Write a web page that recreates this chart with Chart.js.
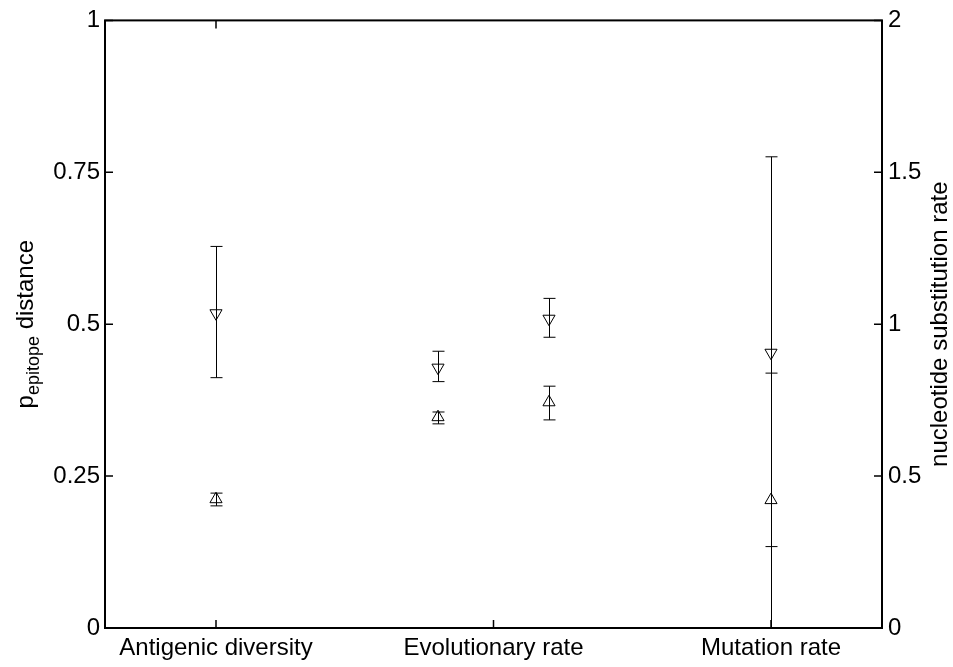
<!DOCTYPE html>
<html>
<head>
<meta charset="utf-8">
<script src="https://cdn.jsdelivr.net/npm/chart.js@4.4.1/dist/chart.umd.min.js"></script>
<style>
  html, body { margin: 0; padding: 0; background: #fff; }
  #myChart { display: block; }
</style>
</head>
<body>
<canvas id="myChart" width="953" height="667"></canvas>
<script>
// categories on the x axis (tick positions 1, 2, 3)
var categories = ['Antigenic diversity', 'Evolutionary rate', 'Mutation rate'];
var xTickValues = [1, 2, 3];
var topTickValues = [1];
var leftTicks = [0, 0.25, 0.5, 0.75, 1];
var rightTicks = [0, 0.5, 1, 1.5, 2];

// p_epitope distance (left axis)
var epiX = [1];
var epiDown = [0.518];
var epiDownLow = [0.412];
var epiDownHigh = [0.628];
var epiUp = [0.212];
var epiUpLow = [0.201];
var epiUpHigh = [0.222];

// nucleotide substitution rate (right axis)
var rateX = [1.8, 2.2, 3];
var rateDown = [0.857, 1.018, 0.906];
var rateDownLow = [0.811, 0.957, 0.268];
var rateDownHigh = [0.911, 1.085, 1.551];
var rateUp = [0.694, 0.743, 0.421];
var rateUpLow = [0.672, 0.685, 0.0];
var rateUpHigh = [0.711, 0.796, 0.839];

var FONT = "'Liberation Sans', Arial, Helvetica, sans-serif";

function pts(xs, ys) {
    return xs.map(function (x, i) { return { x: x, y: ys[i] }; });
}

function markerSet(xs, ys, lo, hi, axis, down) {
    return {
        data: pts(xs, ys),
        yAxisID: axis,
        errLow: lo,
        errHigh: hi,
        showLine: false,
        pointStyle: 'triangle',
        pointRadius: 7,
        pointRotation: down ? 180 : 0,
        borderColor: '#000',
        borderWidth: 1,
        pointBackgroundColor: 'rgba(0,0,0,0)',
        backgroundColor: 'rgba(0,0,0,0)'
    };
}

// error bars, drawn through the dataset's own y scale
var errorBars = {
    id: 'errorBars',
    beforeDatasetsDraw: function (chart) {
        var c = chart.ctx;
        c.save();
        c.strokeStyle = '#000';
        c.lineWidth = 1;
        chart.data.datasets.forEach(function (ds, i) {
            var meta = chart.getDatasetMeta(i);
            var ys = chart.scales[ds.yAxisID];
            meta.data.forEach(function (pt, j) {
                var x = Math.round(pt.x) + 0.5;
                var yl = ys.getPixelForValue(ds.errLow[j]);
                var yh = ys.getPixelForValue(ds.errHigh[j]);
                c.beginPath();
                c.moveTo(x, yl); c.lineTo(x, yh);
                c.moveTo(x - 6, yl); c.lineTo(x + 6, yl);
                c.moveTo(x - 6, yh); c.lineTo(x + 6, yh);
                c.stroke();
            });
        });
        c.restore();
    }
};

// matlab-like box with inward ticks and the two axis titles
var frame = {
    id: 'frame',
    afterDraw: function (chart) {
        var c = chart.ctx;
        var a = chart.chartArea;
        var t = 8;
        c.save();
        c.strokeStyle = '#000';
        c.lineWidth = 2;
        c.strokeRect(a.left, a.top, a.right - a.left, a.bottom - a.top);
        c.lineWidth = 1.5;
        c.beginPath();
        chart.scales.x.ticks.forEach(function (tk) {
            var px = chart.scales.x.getPixelForValue(tk.value);
            c.moveTo(px, a.bottom); c.lineTo(px, a.bottom - t);
        });
        topTickValues.forEach(function (v) {
            var px = chart.scales.x.getPixelForValue(v);
            c.moveTo(px, a.top); c.lineTo(px, a.top + t);
        });
        chart.scales.y.ticks.forEach(function (tk) {
            var py = chart.scales.y.getPixelForValue(tk.value);
            c.moveTo(a.left, py); c.lineTo(a.left + t, py);
        });
        chart.scales.y1.ticks.forEach(function (tk) {
            var py = chart.scales.y1.getPixelForValue(tk.value);
            c.moveTo(a.right, py); c.lineTo(a.right - t, py);
        });
        c.stroke();

        // left title: p_epitope distance
        var midY = (a.top + a.bottom) / 2;
        c.fillStyle = '#000';
        c.textBaseline = 'alphabetic';
        c.textAlign = 'left';
        c.save();
        c.translate(33, midY);
        c.rotate(-Math.PI / 2);
        c.font = '24px ' + FONT;
        var w1 = c.measureText('p').width;
        var w3 = c.measureText(' distance').width;
        c.font = '18px ' + FONT;
        var w2 = c.measureText('epitope').width;
        var x0 = -(w1 + w2 + w3) / 2;
        c.font = '24px ' + FONT;
        c.fillText('p', x0, 0);
        c.font = '18px ' + FONT;
        c.fillText('epitope', x0 + w1, 6);
        c.font = '24px ' + FONT;
        c.fillText(' distance', x0 + w1 + w2, 0);
        c.restore();

        // right title
        c.save();
        c.translate(947, midY);
        c.rotate(-Math.PI / 2);
        c.textAlign = 'center';
        c.font = '24px ' + FONT;
        c.fillText('nucleotide substitution rate', 0, 0);
        c.restore();
        c.restore();
    }
};

var ctx = document.getElementById('myChart').getContext('2d');

var chart = new Chart(ctx, {
    type: 'scatter',
    data: {
        datasets: [
            markerSet(epiX, epiDown, epiDownLow, epiDownHigh, 'y', true),
            markerSet(epiX, epiUp, epiUpLow, epiUpHigh, 'y', false),
            markerSet(rateX, rateDown, rateDownLow, rateDownHigh, 'y1', true),
            markerSet(rateX, rateUp, rateUpLow, rateUpHigh, 'y1', false)
        ]
    },
    plugins: [errorBars, frame],
    options: {
        responsive: false,
        animation: false,
        devicePixelRatio: 1,
        events: [],
        layout: { padding: { top: 16, left: 0, right: 0, bottom: 0 } },
        plugins: {
            legend: { display: false },
            tooltip: { enabled: false }
        },
        scales: {
            x: {
                type: 'linear',
                position: 'bottom',
                min: 0.6,
                max: 3.4,
                afterBuildTicks: function (s) {
                    s.ticks = xTickValues.map(function (v) { return { value: v }; });
                },
                afterFit: function (s) { s.height = 39; },
                grid: { display: false, drawTicks: false },
                border: { display: false },
                ticks: {
                    autoSkip: false,
                    maxRotation: 0,
                    padding: 6,
                    color: '#000',
                    font: { family: FONT, size: 24 },
                    callback: function (v) { return categories[xTickValues.indexOf(v)]; }
                }
            },
            y: {
                position: 'left',
                min: 0,
                max: 1,
                afterBuildTicks: function (s) {
                    s.ticks = leftTicks.map(function (v) { return { value: v }; });
                },
                afterFit: function (s) { s.width = 105; },
                grid: { display: false, drawTicks: false },
                border: { display: false },
                ticks: {
                    padding: 5,
                    color: '#000',
                    font: { family: FONT, size: 24 },
                    callback: function (v) { return String(v); }
                }
            },
            y1: {
                position: 'right',
                min: 0,
                max: 2,
                afterBuildTicks: function (s) {
                    s.ticks = rightTicks.map(function (v) { return { value: v }; });
                },
                afterFit: function (s) { s.width = 71; },
                grid: { display: false, drawTicks: false },
                border: { display: false },
                ticks: {
                    padding: 6,
                    color: '#000',
                    font: { family: FONT, size: 24 },
                    callback: function (v) { return String(v); }
                }
            }
        }
    }
});
</script>
</body>
</html>
